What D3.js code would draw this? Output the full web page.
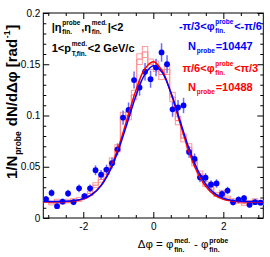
<!DOCTYPE html>
<html><head><meta charset="utf-8">
<script src="https://cdn.jsdelivr.net/npm/d3@7"></script>
<style>
html,body{margin:0;padding:0;background:#fff;}
svg{display:block;font-family:'Liberation Sans',Arial,Helvetica,sans-serif;}
</style>
</head><body>
<svg id="c" width="270" height="257"></svg>
<script>
// ---------------- data ----------------
const phiDomain = [-Math.PI, Math.PI];
const nBins = 40;
const yTicks = [0, 0.05, 0.1, 0.15, 0.2];
const yTickLabels = ["0", "0.05", "0.1", "0.15", "0.2"];
const xTicks = [-2, 0, 2];
const xTickLabels = ["-2", "0", "2"];

// blue series: -pi/3 < phi_probe < -pi/6
const blueVals = [0.0185,0.0245,0.0115,0.016,0.024,0.0155,0.029,0.0212,0.029,0.0466,
  0.0423,0.0472,0.0535,0.067,0.098,0.1054,0.1346,0.1273,0.1427,0.1354,
  0.1468,0.1615,0.15,0.106,0.1078,0.1098,0.0644,0.0576,0.0395,0.0393,
  0.0327,0.0337,0.0234,0.0268,0.0153,0.018,0.0193,0.0129,0.0154,0.015];
const blueErrs = [0.003,0.0035,0.0027,0.003,0.0035,0.003,0.0038,0.0033,0.0038,0.0048,
  0.0046,0.0048,0.0052,0.0058,0.007,0.0073,0.0083,0.008,0.0085,0.0083,
  0.0086,0.009,0.0087,0.0073,0.0074,0.0075,0.0057,0.0054,0.0045,0.0045,
  0.0041,0.0041,0.0035,0.0037,0.0028,0.003,0.0031,0.0026,0.0028,0.0028];

// red series: pi/6 < phi_probe < pi/3
const redVals = [0.0175,0.0145,0.0165,0.0155,0.0165,0.017,0.018,0.021,0.024,0.032,
  0.0375,0.0455,0.0555,0.068,0.099,0.1,0.12,0.155,0.162,0.15,
  0.148,0.14,0.145,0.118,0.095,0.078,0.069,0.054,0.043,0.033,
  0.03,0.023,0.025,0.0195,0.017,0.016,0.014,0.0155,0.017,0.015];
const redErrs = [0.0019,0.0017,0.0018,0.0018,0.0018,0.0019,0.0019,0.002,0.0021,0.0024,
  0.0026,0.0029,0.0032,0.0035,0.0042,0.0042,0.0046,0.0052,0.0054,0.0051,
  0.0051,0.005,0.005,0.0046,0.0041,0.0037,0.0035,0.0031,0.0028,0.0024,
  0.0023,0.002,0.0021,0.0019,0.0018,0.0017,0.0016,0.0017,0.0018,0.0017];

// fit curves
const fitX = [-3.1416,-2.75,-2.5,-2.25,-2,-1.75,-1.5,-1.25,-1,-0.75,-0.5,-0.25,0,
  0.25,0.5,0.75,1,1.25,1.5,1.75,2,2.25,2.5,2.75,3.1416];
const blueFit = [0.016,0.0161,0.0163,0.0171,0.0189,0.023,0.0311,0.0452,0.0659,0.092,0.1188,0.1397,0.1485,
  0.1421,0.1227,0.0964,0.0698,0.048,0.033,0.024,0.0194,0.0172,0.0164,0.0161,0.016];
const redFit = [0.0155,0.0156,0.0158,0.0166,0.0185,0.0229,0.0316,0.0466,0.0687,0.0963,0.1242,0.1451,0.1525,
  0.1439,0.1221,0.094,0.0667,0.0451,0.0307,0.0224,0.0183,0.0165,0.0158,0.0156,0.0155];

// ---------------- layout ----------------
const L = 43.3, R = 263.3, T = 13, B = 218;
const svg = d3.select('#c');
const x = d3.scaleLinear().domain(phiDomain).range([L, R]);
const y = d3.scaleLinear().domain([0, 0.2]).range([B, T]);
const bw = (phiDomain[1] - phiDomain[0]) / nBins;
const edgeL = i => phiDomain[0] + i * bw;
const center = i => phiDomain[0] + (i + 0.5) * bw;

const BLUE = '#0000ff', RED = '#ff0000';

// ---------------- axes ----------------
const xMinor = d3.range(-3, 3.01, 0.5).filter(v => xTicks.indexOf(v) < 0);
const yMinor = d3.range(0, 0.2001, 0.01).filter(v => !yTicks.some(t => Math.abs(t - v) < 1e-6));

function styleAxis(g){ g.select('.domain').remove(); g.selectAll('line').attr('stroke','#000').attr('stroke-width',1); }

// bottom
svg.append('g').attr('transform', `translate(0,${B})`)
  .call(d3.axisBottom(x).tickValues(xTicks).tickFormat((d,i)=>xTickLabels[i]).tickSizeInner(-6).tickSizeOuter(0).tickPadding(5))
  .call(styleAxis)
  .call(g => g.selectAll('text').attr('font-size', 10).attr('font-family', "'Liberation Sans',Arial,sans-serif").attr('fill','#000'));
svg.append('g').attr('transform', `translate(0,${B})`)
  .call(d3.axisBottom(x).tickValues(xMinor).tickFormat('').tickSizeInner(-3).tickSizeOuter(0)).call(styleAxis);
// top
svg.append('g').attr('transform', `translate(0,${T})`)
  .call(d3.axisTop(x).tickValues(xTicks).tickFormat('').tickSizeInner(-6).tickSizeOuter(0)).call(styleAxis);
svg.append('g').attr('transform', `translate(0,${T})`)
  .call(d3.axisTop(x).tickValues(xMinor).tickFormat('').tickSizeInner(-3).tickSizeOuter(0)).call(styleAxis);
// left
svg.append('g').attr('transform', `translate(${L},0)`)
  .call(d3.axisLeft(y).tickValues(yTicks).tickFormat((d,i)=>yTickLabels[i]).tickSizeInner(-6).tickSizeOuter(0).tickPadding(3))
  .call(styleAxis)
  .call(g => g.selectAll('text').attr('font-size', 10).attr('font-family', "'Liberation Sans',Arial,sans-serif").attr('fill','#000'));
svg.append('g').attr('transform', `translate(${L},0)`)
  .call(d3.axisLeft(y).tickValues(yMinor).tickFormat('').tickSizeInner(-3).tickSizeOuter(0)).call(styleAxis);
// right
svg.append('g').attr('transform', `translate(${R},0)`)
  .call(d3.axisRight(y).tickValues(yTicks).tickFormat('').tickSizeInner(-6).tickSizeOuter(0)).call(styleAxis);
svg.append('g').attr('transform', `translate(${R},0)`)
  .call(d3.axisRight(y).tickValues(yMinor).tickFormat('').tickSizeInner(-3).tickSizeOuter(0)).call(styleAxis);

// frame
svg.append('rect').attr('x', L).attr('y', T).attr('width', R - L).attr('height', B - T)
  .attr('fill', 'none').attr('stroke', '#000').attr('stroke-width', 1);

// ---------------- red histogram ----------------
const plot = svg.append('g');
const stepPts = [];
redVals.forEach((v, i) => { stepPts.push([edgeL(i), v]); stepPts.push([edgeL(i + 1), v]); });
plot.append('path').attr('d', d3.line().x(d => x(d[0])).y(d => y(d[1]))(stepPts))
  .attr('fill', 'none').attr('stroke', '#ff7070').attr('stroke-width', 1);
plot.selectAll('rect.rbox').data(redVals).join('rect').attr('class', 'rbox')
  .attr('x', (d, i) => x(edgeL(i))).attr('width', (d, i) => x(edgeL(i + 1)) - x(edgeL(i)))
  .attr('y', (d, i) => y(d + redErrs[i])).attr('height', (d, i) => y(d - redErrs[i]) - y(d + redErrs[i]))
  .attr('fill', 'none').attr('stroke', '#ff9090').attr('stroke-width', 0.9);

// ---------------- blue points ----------------
plot.selectAll('line.berr').data(blueVals).join('line').attr('class', 'berr')
  .attr('x1', (d, i) => x(center(i))).attr('x2', (d, i) => x(center(i)))
  .attr('y1', (d, i) => y(d - blueErrs[i])).attr('y2', (d, i) => y(d + blueErrs[i]))
  .attr('stroke', '#6a6aff').attr('stroke-width', 1.5);
plot.selectAll('circle.bpt').data(blueVals).join('circle').attr('class', 'bpt')
  .attr('cx', (d, i) => x(center(i))).attr('cy', d => y(d)).attr('r', 2.9).attr('fill', BLUE);

// ---------------- fits ----------------
const fitLine = d3.line().x((d, i) => x(fitX[i])).y(d => y(d)).curve(d3.curveCatmullRom.alpha(0.5));
plot.append('path').attr('d', fitLine(redFit)).attr('fill', 'none').attr('stroke', RED).attr('stroke-width', 1.5);
plot.append('path').attr('d', fitLine(blueFit)).attr('fill', 'none').attr('stroke', BLUE).attr('stroke-width', 1.5);

// ---------------- rich text helper ----------------
function rich(parent, parts, o) {
  const g = parent.append('g').attr('transform', `translate(${o.x},${o.y})` + (o.rotate ? ` rotate(${o.rotate})` : ''));
  const inner = g.append('g');
  let cx = 0;
  const mk = (txt, px, py, size, weight) => inner.append('text').attr('x', px).attr('y', py)
    .attr('font-size', size).attr('font-weight', weight).attr('fill', o.fill)
    .style('white-space', 'pre').text(txt);
  const w = t => t.node().getComputedTextLength();
  for (const p of parts) {
    if (p[0] === 'n') { const t = mk(p[1], cx, 0, o.size, o.weight); cx += w(t); }
    else if (p[0] === 'sup') { const t = mk(p[1], cx + o.pad, o.supDy, o.ssize, o.sweight); cx += o.pad + w(t) + o.pad; }
    else if (p[0] === 'sub') { const t = mk(p[1], cx + o.pad, o.subDy, o.ssize, o.sweight); cx += o.pad + w(t) + o.pad; }
    else if (p[0] === 'ss') {
      const a = mk(p[1], cx + o.pad, o.supDy, o.ssize, o.sweight);
      const b = mk(p[2], cx + o.pad, o.subDy, o.ssize, o.sweight);
      cx += o.pad + Math.max(w(a), w(b)) + o.pad;
    }
  }
  const shift = o.anchor === 'end' ? -cx : o.anchor === 'middle' ? -cx / 2 : 0;
  inner.attr('transform', `translate(${shift},0)`);
}

const base = { size: 11, ssize: 6.5, weight: 'bold', sweight: 'bold', supDy: -6, subDy: 3.3, pad: 0.8, anchor: 'start' };

// left labels
rich(svg, [['n', '|η'], ['ss', 'probe', 'fin.'], ['n', ',η'], ['ss', 'med.', 'fin.'], ['n', '|<2']],
  Object.assign({}, base, { x: 51.7, y: 30.7, fill: '#000' }));
rich(svg, [['n', '1<p'], ['ss', 'med.', 'T,fin.'], ['n', '<2 GeV/c']],
  Object.assign({}, base, { x: 51.7, y: 52.3, fill: '#000' }));

// right labels
rich(svg, [['n', '-π/3<φ'], ['ss', 'probe', 'fin.'], ['n', '<-π/6']],
  Object.assign({}, base, { x: 220.4, y: 29.5, fill: BLUE, anchor: 'middle' }));
rich(svg, [['n', 'N'], ['sub', 'probe'], ['n', '=10447']],
  Object.assign({}, base, { x: 220.4, y: 50, fill: BLUE, anchor: 'middle', subDy: 3 }));
rich(svg, [['n', 'π/6<φ'], ['ss', 'probe', 'fin.'], ['n', '<π/3']],
  Object.assign({}, base, { x: 220.4, y: 71.7, fill: RED, anchor: 'middle' }));
rich(svg, [['n', 'N'], ['sub', 'probe'], ['n', '=10488']],
  Object.assign({}, base, { x: 220.4, y: 90.7, fill: RED, anchor: 'middle', subDy: 3 }));

// axis titles
rich(svg, [['n', 'Δφ = φ'], ['ss', 'med.', 'fin.'], ['n', ' - φ'], ['ss', 'probe', 'fin.']],
  Object.assign({}, base, { x: 137.7, y: 247.7, fill: '#000', size: 11.5, weight: 'normal', ssize: 6.8, supDy: -5, subDy: 4.5 }));
rich(svg, [['n', '1/N'], ['sub', 'probe'], ['n', ' dN/dΔφ [rad'], ['sup', '-1'], ['n', ']']],
  Object.assign({}, base, { x: 17, y: 179, rotate: -90, fill: '#000', size: 15, ssize: 8.5, supDy: -7, subDy: 4 }));
</script>
</body></html>
